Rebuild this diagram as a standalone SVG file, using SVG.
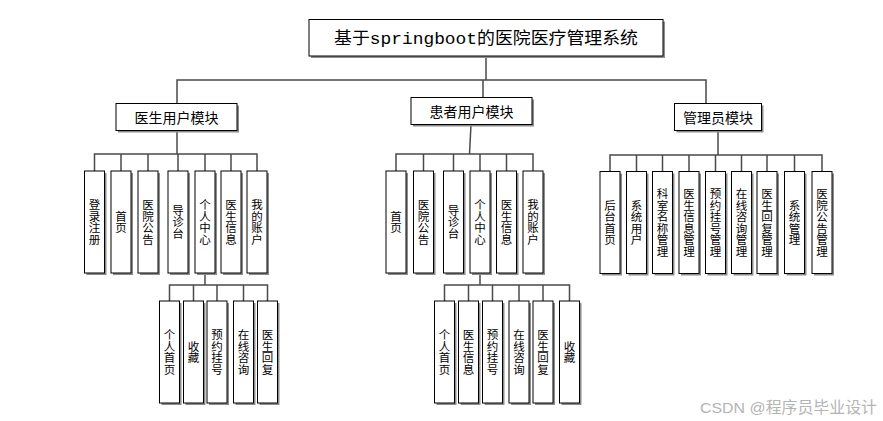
<svg xmlns="http://www.w3.org/2000/svg" width="883" height="421" viewBox="0 0 883 421">
<style>
.sh{fill:#8c8c8c;}
.bx{fill:#fff;stroke:#000;stroke-width:1;}
.cn{stroke:#4a4a4a;stroke-width:1.5;fill:none;}
.lf{font-family:"Noto Sans CJK SC","Noto Sans",sans-serif;font-size:11.5px;fill:#000;text-anchor:middle;writing-mode:vertical-rl;}
.md{font-family:"Noto Sans CJK SC","Noto Sans",sans-serif;font-size:14px;fill:#000;text-anchor:middle;dominant-baseline:central;}
.tt{font-family:"Liberation Mono","Noto Sans CJK SC",monospace;font-size:17px;fill:#000;text-anchor:middle;dominant-baseline:central;}
.wm{font-family:"Liberation Sans","Noto Sans CJK SC",sans-serif;font-size:15.5px;fill:#b4b4b4;}
</style>
<rect width="883" height="421" fill="#fff"/>
<g id="connectors">
<polyline class="cn" points="486,56 486,80"/>
<polyline class="cn" points="177,103.5 177,80 706,80 706,103.5"/>
<polyline class="cn" points="483,80 483,97.5"/>
<polyline class="cn" points="177,130.5 177,154"/>
<polyline class="cn" points="94.5,171 94.5,154 257,154 257,171"/>
<line class="cn" x1="121" y1="154" x2="121" y2="171"/>
<line class="cn" x1="148" y1="154" x2="148" y2="171"/>
<line class="cn" x1="178" y1="154" x2="178" y2="171"/>
<line class="cn" x1="205" y1="154" x2="205" y2="171"/>
<line class="cn" x1="231" y1="154" x2="231" y2="171"/>
<polyline class="cn" points="205,273 205,285"/>
<polyline class="cn" points="169.5,301 169.5,285 267.5,285 267.5,301"/>
<line class="cn" x1="193.5" y1="285" x2="193.5" y2="301"/>
<line class="cn" x1="217" y1="285" x2="217" y2="301"/>
<line class="cn" x1="243.5" y1="285" x2="243.5" y2="301"/>
<line class="cn" x1="471" y1="124.5" x2="469.5" y2="154"/>
<polyline class="cn" points="396,171 396,154 533,154 533,171"/>
<line class="cn" x1="423.5" y1="154" x2="423.5" y2="171"/>
<line class="cn" x1="453.5" y1="154" x2="453.5" y2="171"/>
<line class="cn" x1="480" y1="154" x2="480" y2="171"/>
<line class="cn" x1="506.5" y1="154" x2="506.5" y2="171"/>
<polyline class="cn" points="480,273 480,285"/>
<polyline class="cn" points="444.5,301 444.5,285 569.5,285 569.5,301"/>
<line class="cn" x1="468.5" y1="285" x2="468.5" y2="301"/>
<line class="cn" x1="492.5" y1="285" x2="492.5" y2="301"/>
<line class="cn" x1="519" y1="285" x2="519" y2="301"/>
<line class="cn" x1="543" y1="285" x2="543" y2="301"/>
<polyline class="cn" points="718,130.5 718,155"/>
<polyline class="cn" points="610,171.5 610,155 822,155 822,171.5"/>
<line class="cn" x1="636.5" y1="155" x2="636.5" y2="171.5"/>
<line class="cn" x1="662.5" y1="155" x2="662.5" y2="171.5"/>
<line class="cn" x1="689" y1="155" x2="689" y2="171.5"/>
<line class="cn" x1="715.5" y1="155" x2="715.5" y2="171.5"/>
<line class="cn" x1="741.5" y1="155" x2="741.5" y2="171.5"/>
<line class="cn" x1="767" y1="155" x2="767" y2="171.5"/>
<line class="cn" x1="794.5" y1="155" x2="794.5" y2="171.5"/>
</g>
<g id="title">
<rect class="sh" x="311" y="21.5" width="354" height="36.5"/>
<rect class="bx" x="309" y="19.5" width="354" height="36.5"/>
<text class="tt" x="486" y="39" textLength="304" lengthAdjust="spacingAndGlyphs">基于springboot的医院医疗管理系统</text>
</g>
<g id="doctor-module">
<rect class="sh" x="118" y="105.5" width="121" height="27"/>
<rect class="bx" x="116" y="103.5" width="121" height="27"/>
<text class="md" x="176.5" y="117">医生用户模块</text>
</g>
<g id="patient-module">
<rect class="sh" x="413" y="99.5" width="121" height="27"/>
<rect class="bx" x="411" y="97.5" width="121" height="27"/>
<text class="md" x="471.5" y="111">患者用户模块</text>
</g>
<g id="admin-module">
<rect class="sh" x="676.5" y="105.5" width="87" height="27"/>
<rect class="bx" x="674.5" y="103.5" width="87" height="27"/>
<text class="md" x="718" y="117">管理员模块</text>
</g>
<g id="d-login"><rect class="sh" x="86.5" y="173" width="20" height="102"/><rect class="bx" x="84.5" y="171" width="20" height="102"/><text class="lf" x="94.5" y="222">登录注册</text></g>
<g id="d-home"><rect class="sh" x="113" y="173" width="20" height="102"/><rect class="bx" x="111" y="171" width="20" height="102"/><text class="lf" x="121" y="222">首页</text></g>
<g id="d-notice"><rect class="sh" x="140" y="173" width="20" height="102"/><rect class="bx" x="138" y="171" width="20" height="102"/><text class="lf" x="148" y="222">医院公告</text></g>
<g id="d-guide"><rect class="sh" x="170" y="173" width="20" height="102"/><rect class="bx" x="168" y="171" width="20" height="102"/><text class="lf" x="178" y="222">导诊台</text></g>
<g id="d-center"><rect class="sh" x="197" y="173" width="20" height="102"/><rect class="bx" x="195" y="171" width="20" height="102"/><text class="lf" x="205" y="222">个人中心</text></g>
<g id="d-docinfo"><rect class="sh" x="223" y="173" width="20" height="102"/><rect class="bx" x="221" y="171" width="20" height="102"/><text class="lf" x="231" y="222">医生信息</text></g>
<g id="d-account"><rect class="sh" x="249" y="173" width="20" height="102"/><rect class="bx" x="247" y="171" width="20" height="102"/><text class="lf" x="257" y="222">我的账户</text></g>
<g id="d-phome"><rect class="sh" x="161.5" y="303" width="20" height="102"/><rect class="bx" x="159.5" y="301" width="20" height="102"/><text class="lf" x="169.5" y="352">个人首页</text></g>
<g id="d-fav"><rect class="sh" x="185.5" y="303" width="20" height="102"/><rect class="bx" x="183.5" y="301" width="20" height="102"/><text class="lf" x="193.5" y="352">收藏</text></g>
<g id="d-reg"><rect class="sh" x="209" y="303" width="20" height="102"/><rect class="bx" x="207" y="301" width="20" height="102"/><text class="lf" x="217" y="352">预约挂号</text></g>
<g id="d-consult"><rect class="sh" x="235.5" y="303" width="20" height="102"/><rect class="bx" x="233.5" y="301" width="20" height="102"/><text class="lf" x="243.5" y="352">在线咨询</text></g>
<g id="d-reply"><rect class="sh" x="259.5" y="303" width="20" height="102"/><rect class="bx" x="257.5" y="301" width="20" height="102"/><text class="lf" x="267.5" y="352">医生回复</text></g>
<g id="p-home"><rect class="sh" x="388" y="173" width="20" height="102"/><rect class="bx" x="386" y="171" width="20" height="102"/><text class="lf" x="396" y="222">首页</text></g>
<g id="p-notice"><rect class="sh" x="415.5" y="173" width="20" height="102"/><rect class="bx" x="413.5" y="171" width="20" height="102"/><text class="lf" x="423.5" y="222">医院公告</text></g>
<g id="p-guide"><rect class="sh" x="445.5" y="173" width="20" height="102"/><rect class="bx" x="443.5" y="171" width="20" height="102"/><text class="lf" x="453.5" y="222">导诊台</text></g>
<g id="p-center"><rect class="sh" x="472" y="173" width="20" height="102"/><rect class="bx" x="470" y="171" width="20" height="102"/><text class="lf" x="480" y="222">个人中心</text></g>
<g id="p-docinfo"><rect class="sh" x="498.5" y="173" width="20" height="102"/><rect class="bx" x="496.5" y="171" width="20" height="102"/><text class="lf" x="506.5" y="222">医生信息</text></g>
<g id="p-account"><rect class="sh" x="525" y="173" width="20" height="102"/><rect class="bx" x="523" y="171" width="20" height="102"/><text class="lf" x="533" y="222">我的账户</text></g>
<g id="p-phome"><rect class="sh" x="436.5" y="303" width="20" height="102"/><rect class="bx" x="434.5" y="301" width="20" height="102"/><text class="lf" x="444.5" y="352">个人首页</text></g>
<g id="p-docinfo2"><rect class="sh" x="460.5" y="303" width="20" height="102"/><rect class="bx" x="458.5" y="301" width="20" height="102"/><text class="lf" x="468.5" y="352">医生信息</text></g>
<g id="p-reg"><rect class="sh" x="484.5" y="303" width="20" height="102"/><rect class="bx" x="482.5" y="301" width="20" height="102"/><text class="lf" x="492.5" y="352">预约挂号</text></g>
<g id="p-consult"><rect class="sh" x="511" y="303" width="20" height="102"/><rect class="bx" x="509" y="301" width="20" height="102"/><text class="lf" x="519" y="352">在线咨询</text></g>
<g id="p-reply"><rect class="sh" x="535" y="303" width="20" height="102"/><rect class="bx" x="533" y="301" width="20" height="102"/><text class="lf" x="543" y="352">医生回复</text></g>
<g id="p-fav"><rect class="sh" x="561.5" y="303" width="20" height="102"/><rect class="bx" x="559.5" y="301" width="20" height="102"/><text class="lf" x="569.5" y="352">收藏</text></g>
<g id="a-home"><rect class="sh" x="602" y="173.5" width="20" height="102"/><rect class="bx" x="600" y="171.5" width="20" height="102"/><text class="lf" x="610" y="222.5">后台首页</text></g>
<g id="a-users"><rect class="sh" x="628.5" y="173.5" width="20" height="102"/><rect class="bx" x="626.5" y="171.5" width="20" height="102"/><text class="lf" x="636.5" y="222.5">系统用户</text></g>
<g id="a-dept"><rect class="sh" x="654.5" y="173.5" width="20" height="102"/><rect class="bx" x="652.5" y="171.5" width="20" height="102"/><text class="lf" x="662.5" y="222.5">科室名称管理</text></g>
<g id="a-doc"><rect class="sh" x="681" y="173.5" width="20" height="102"/><rect class="bx" x="679" y="171.5" width="20" height="102"/><text class="lf" x="689" y="222.5">医生信息管理</text></g>
<g id="a-reg"><rect class="sh" x="707.5" y="173.5" width="20" height="102"/><rect class="bx" x="705.5" y="171.5" width="20" height="102"/><text class="lf" x="715.5" y="222.5">预约挂号管理</text></g>
<g id="a-consult"><rect class="sh" x="733.5" y="173.5" width="20" height="102"/><rect class="bx" x="731.5" y="171.5" width="20" height="102"/><text class="lf" x="741.5" y="222.5">在线咨询管理</text></g>
<g id="a-reply"><rect class="sh" x="759" y="173.5" width="20" height="102"/><rect class="bx" x="757" y="171.5" width="20" height="102"/><text class="lf" x="767" y="222.5">医生回复管理</text></g>
<g id="a-sys"><rect class="sh" x="786.5" y="173.5" width="20" height="102"/><rect class="bx" x="784.5" y="171.5" width="20" height="102"/><text class="lf" x="794.5" y="222.5">系统管理</text></g>
<g id="a-notice"><rect class="sh" x="814" y="173.5" width="20" height="102"/><rect class="bx" x="812" y="171.5" width="20" height="102"/><text class="lf" x="822" y="222.5">医院公告管理</text></g>
<text class="wm" x="700" y="413" textLength="177" lengthAdjust="spacingAndGlyphs">CSDN @程序员毕业设计</text>
</svg>
